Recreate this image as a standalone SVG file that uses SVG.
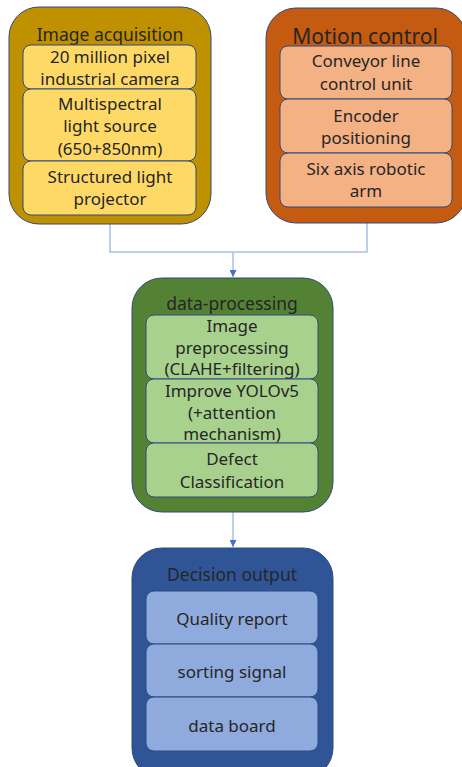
<svg xmlns="http://www.w3.org/2000/svg" width="462" height="767" viewBox="0 0 462 767">
  <style>
    text { font-family: "Noto Sans", "Open Sans", "DejaVu Sans", sans-serif; fill: #262626; text-anchor: middle; font-size: 17px; }
    .title { font-size: 17.5px; }
    .outer { stroke: #2f4b7c; stroke-width: 1; }
    .inner { stroke: #2f4b7c; stroke-width: 1; }
    .conn { fill: none; stroke: #a9c0e6; stroke-width: 1.5; }
  </style>
  <defs>
    <marker id="arrow" viewBox="0 0 10 10" refX="10" refY="5" markerWidth="7" markerHeight="7" markerUnits="userSpaceOnUse" orient="auto">
      <path d="M0,0 L10,5 L0,10 z" fill="#4472c4"/>
    </marker>
  </defs>

  <!-- connectors -->
  <g id="connectors">
    <path class="conn" d="M110,224 V252 H367 V223"/>
    <path class="conn" d="M233,252 V277" marker-end="url(#arrow)"/>
    <path class="conn" d="M233,512 V547" marker-end="url(#arrow)"/>
  </g>

  <!-- Image acquisition -->
  <g id="image-acquisition">
    <rect class="outer" x="9" y="7" width="202" height="217" rx="30" fill="#bf9000"/>
    <text class="title" x="110" y="41">Image acquisition</text>
    <rect class="inner" x="23" y="45" width="173" height="44" rx="8" fill="#ffd966"/>
    <text x="110" y="63">20 million pixel</text>
    <text x="110" y="85">industrial camera</text>
    <rect class="inner" x="23" y="89" width="173" height="72" rx="8" fill="#ffd966"/>
    <text x="110" y="110">Multispectral</text>
    <text x="110" y="132">light source</text>
    <text x="110" y="155">(650+850nm)</text>
    <rect class="inner" x="23" y="161" width="173" height="54" rx="8" fill="#ffd966"/>
    <text x="110" y="183">Structured light</text>
    <text x="110" y="205">projector</text>
  </g>

  <!-- Motion control -->
  <g id="motion-control">
    <rect class="outer" x="266" y="8" width="200" height="215" rx="30" fill="#c55a11"/>
    <text class="title" x="365" y="44" style="font-size:21px">Motion control</text>
    <rect class="inner" x="280" y="46" width="172" height="53" rx="8" fill="#f4b183"/>
    <text x="366" y="67">Conveyor line</text>
    <text x="366" y="90">control unit</text>
    <rect class="inner" x="280" y="99" width="172" height="54" rx="8" fill="#f4b183"/>
    <text x="366" y="122">Encoder</text>
    <text x="366" y="144">positioning</text>
    <rect class="inner" x="280" y="153" width="172" height="54" rx="8" fill="#f4b183"/>
    <text x="366" y="175">Six axis robotic</text>
    <text x="366" y="197">arm</text>
  </g>

  <!-- data-processing -->
  <g id="data-processing">
    <rect class="outer" x="132" y="278" width="201" height="234" rx="30" fill="#548235"/>
    <text class="title" x="232" y="310">data-processing</text>
    <rect class="inner" x="146" y="315" width="172" height="64" rx="8" fill="#a9d18e"/>
    <text x="232" y="332">Image</text>
    <text x="232" y="354">preprocessing</text>
    <text x="232" y="375">(CLAHE+filtering)</text>
    <rect class="inner" x="146" y="379" width="172" height="64" rx="8" fill="#a9d18e"/>
    <text x="232" y="397">Improve YOLOv5</text>
    <text x="232" y="419">(+attention</text>
    <text x="232" y="440">mechanism)</text>
    <rect class="inner" x="146" y="443" width="172" height="54" rx="8" fill="#a9d18e"/>
    <text x="232" y="465">Defect</text>
    <text x="232" y="488">Classification</text>
  </g>

  <!-- Decision output -->
  <g id="decision-output">
    <rect class="outer" x="132" y="548" width="201" height="230" rx="30" fill="#2f5597"/>
    <text class="title" x="232" y="581">Decision output</text>
    <rect class="inner" x="146" y="591" width="172" height="53" rx="8" fill="#8faadc"/>
    <text x="232" y="625">Quality report</text>
    <rect class="inner" x="146" y="644" width="172" height="53" rx="8" fill="#8faadc"/>
    <text x="232" y="678">sorting signal</text>
    <rect class="inner" x="146" y="697" width="172" height="54" rx="8" fill="#8faadc"/>
    <text x="232" y="732">data board</text>
  </g>
</svg>
